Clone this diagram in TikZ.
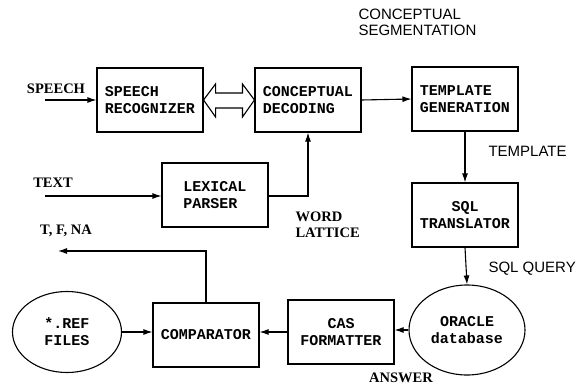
\documentclass[tikz,border=0pt]{standalone}
\usepackage{fontspec}
\setmainfont{Liberation Serif}
\setsansfont{Liberation Sans}
\setmonofont{Liberation Mono}
\usetikzlibrary{arrows.meta, calc, shapes.geometric}

\begin{document}
\begin{tikzpicture}[x=1pt, y=-1pt, line width=1.1pt,
    blk/.style={draw, minimum width=106pt, minimum height=64pt, inner sep=3pt,
                font=\ttfamily\bfseries\fontsize{15}{17}\selectfont},
    db/.style={draw, ellipse, inner sep=0pt,
               font=\ttfamily\bfseries\fontsize{15}{17}\selectfont},
    lbl/.style={font=\bfseries\fontsize{14.5}{16}\selectfont, inner sep=0pt},
    tag/.style={font=\sffamily\fontsize{15}{16}\selectfont, inner sep=0pt},
    arr/.style={-{Latex[length=9pt, width=6pt]}}]
    \useasboundingbox (0,0) rectangle (581,388);

    % processing blocks
    \node[blk, align=left] (rec) at (150,100) {SPEECH\\RECOGNIZER};
    \node[blk, align=left] (dec) at (308,100) {CONCEPTUAL\\DECODING};
    \node[blk, align=left] (tmpl) at (465,99) {TEMPLATE\\GENERATION};
    \node[blk, align=left] (lex) at (215,195) {LEXICAL\\PARSER};
    \node[blk, align=center] (sql) at (465,215) {SQL\\TRANSLATOR};
    \node[blk, align=center] (cas) at (341,332) {CAS\\FORMATTER};
    \node[blk, align=center] (cmp) at (206,335) {COMPARATOR};
    \node[db, align=center, minimum width=116pt, minimum height=90pt] (ora) at (467,330) {ORACLE\\database};
    \node[db, align=center, minimum width=109pt, minimum height=81pt] (ref) at (67,332) {*.REF\\FILES};

    % labels
    \node[lbl] (speech) at (56,89) {SPEECH};
    \node[lbl] (text) at (53,183) {TEXT};
    \node[lbl] (tfna) at (66,231) {T, F, NA};
    \node[lbl, align=left, anchor=north west] (lat) at (295,211) {WORD\\LATTICE};
    \node[lbl] (ans) at (401,378) {ANSWER};
    \node[tag, align=left, anchor=north west] (seg) at (358,8) {CONCEPTUAL\\SEGMENTATION};
    \node[tag, anchor=west] (tpl) at (488,151) {TEMPLATE};
    \node[tag, anchor=west] (qry) at (488,269) {SQL QUERY};

    \coordinate (sIn) at (45,100);
    \coordinate (tIn) at (45,196);
    \coordinate (out) at (58,251);

    % connectors
    \draw[arr] (sIn) -- (rec.west);
    \draw[arr] (tIn) -- (tIn -| lex.west);
    \draw[arr] (tIn -| lex.east) -| (dec.south);
    \draw[arr] (dec.east) -- (tmpl.west);
    \draw[arr] (tmpl.south) -- (sql.north);
    \draw[arr] (sql.south) -- (ora.north);
    \draw[arr] (ora.west) -- (ora.west -| cas.east);
    \draw[arr] (cas.west) -- (cas.west -| cmp.east);
    \draw[arr] (ref.east) -- (ref.east -| cmp.west);
    \draw[arr] (cmp.north) |- (out);
    \draw[line join=miter] (rec.east) -- ($(rec.east)+(12,-16)$) -- ($(rec.east)+(12,-7)$)
        -- ($(dec.west)+(-12,-7)$) -- ($(dec.west)+(-12,-16)$) -- (dec.west)
        -- ($(dec.west)+(-12,17)$) -- ($(dec.west)+(-12,8)$) -- ($(rec.east)+(12,8)$)
        -- ($(rec.east)+(12,17)$) -- cycle;
\end{tikzpicture}
\end{document}
